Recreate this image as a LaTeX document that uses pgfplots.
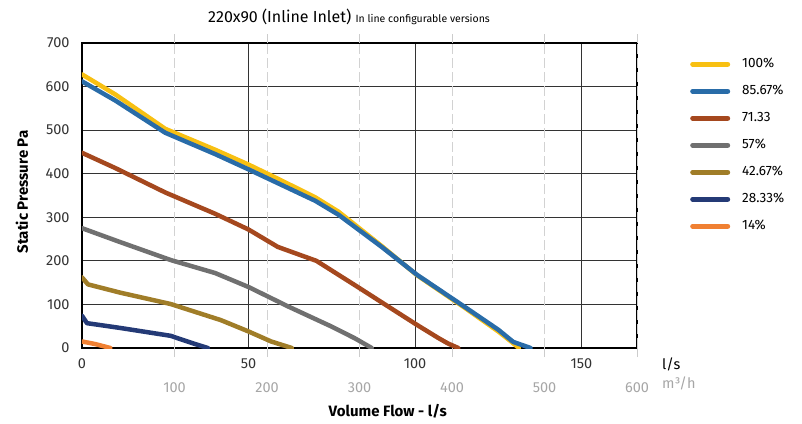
\documentclass[border=0pt]{standalone}
\usepackage{pgfplots}
\pgfplotsset{compat=1.18}
\usepackage{fontspec}
\setmainfont{Fira Sans}

\definecolor{cA}{RGB}{248,192,18}
\definecolor{cB}{RGB}{41,108,168}
\definecolor{cC}{RGB}{165,72,30}
\definecolor{cD}{RGB}{112,112,112}
\definecolor{cE}{RGB}{160,125,40}
\definecolor{cF}{RGB}{36,58,118}
\definecolor{cG}{RGB}{240,128,50}

\begin{document}
\begin{tikzpicture}
\path[use as bounding box] (-82pt,-75pt) rectangle (720pt,348pt);
\begin{axis}[
    at={(0pt,0pt)}, anchor=south west,
    scale only axis, width=555pt, height=305pt,
    xmin=0, xmax=166.667, ymin=0, ymax=700,
    xtick={0,50,100,150}, ytick={0,100,...,700},
    major tick length=0pt,
    axis line style={line width=1.6pt, black},
    grid=major,
    major grid style={black!80, line width=0.8pt},
    /pgf/number format/assume math mode=true,
    tick label style={font=\fontsize{14.5}{15}\selectfont, text=black!80},
    yticklabel style={xshift=-9pt},
    xticklabel style={yshift=-7pt},
    extra x ticks={27.778,55.556,83.333,111.111,138.889,166.667},
    extra x tick labels={100,200,300,400,500,600},
    extra x tick style={
        major grid style={gray!35, line width=0.8pt, dash pattern=on 10pt off 4pt},
        major tick length=9pt, tick align=outside,
        tick style={gray!40, line width=0.8pt},
        tick label style={yshift=-15pt, text=gray!70},
    },
    xlabel={\bfseries\fontsize{15}{15}\selectfont Volume Flow - l/s},
    xlabel style={at={(axis description cs:0.551,-0.2066)}, anchor=center},
    ylabel={\bfseries\fontsize{15}{15}\selectfont Static Pressure Pa},
    ylabel style={at={(axis description cs:-0.1081,0.5115)}, anchor=center},
    legend style={at={(1,1)}, anchor=north west, xshift=53pt, yshift=-14.5pt,
        draw=none, fill=none, inner sep=0pt, row sep=14pt, column sep=12pt,
        font=\fontsize{13.5}{13.5}\selectfont,
        nodes={inner sep=0pt, text height=10pt, text depth=3pt}},
    legend cell align=left,
    legend image code/.code={\draw[#1, line width=5pt, line cap=round] (2.5pt,0pt) -- (37.5pt,0pt);},
    every axis plot/.append style={line width=4.5pt, line join=round, line cap=round, mark=none},
]
\addplot[cA] coordinates {
    (0,628) (10,582) (25,503) (40,455) (50,421) (60,384) (70,346) (77,313)
    (90,234) (100.6,167) (115,92) (125,38) (129,14) (131.2,0)
};
\addplot[cB] coordinates {
    (0,612) (10,568) (25,494) (40,445) (50,410) (60,374) (70,338) (77,306)
    (90,232) (100.6,168) (115,94) (125,42) (129.5,14) (134.7,0)
};
\addplot[cC] coordinates {
    (0,448) (10,413) (25,357) (40,308) (50,272) (58.8,232) (70.4,200) (82,144)
    (92,95) (100.6,53) (107,23) (110,10) (113,0)
};
\addplot[cD] coordinates {
    (0,275) (11.5,243) (26.6,202) (40,172) (50,140) (62,95) (75,49) (82,22) (87,0)
};
\addplot[cE] coordinates {
    (0,162) (1.8,146) (11.5,127) (26.6,101) (41.7,64) (50,38) (56.8,15) (63,0)
};
\addplot[cF] coordinates {
    (0,74) (1.5,57) (11.5,46) (26.6,28) (33.6,10) (37.8,0)
};
\addplot[cG] coordinates {
    (0,15) (4,9) (8.5,0)
};
\legend{100\%, 85.67\%, 71.33, 57\%, 42.67\%, 28.33\%, 14\%}
\end{axis}
\node[anchor=base west, inner sep=0pt] at (126pt,325pt)
    {\fontsize{16}{16}\selectfont 220x90 (Inline Inlet) \fontsize{10.5}{10.5}\selectfont In line configurable versions};
\node[anchor=base west, inner sep=0pt] at (580pt,-21pt) {\fontsize{14.5}{15}\selectfont l/s};
\node[anchor=base west, inner sep=0pt, text=gray!70] at (580pt,-40pt) {\fontsize{14.5}{15}\selectfont m³/h};
\end{tikzpicture}
\end{document}
